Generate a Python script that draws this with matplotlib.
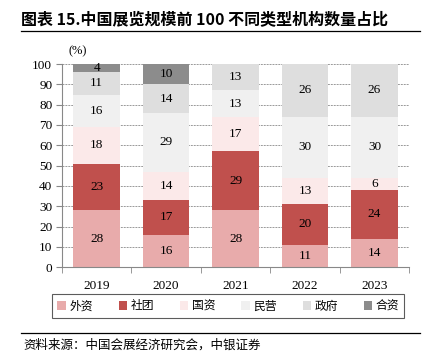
import matplotlib.pyplot as plt
import numpy as np

years = ["2019", "2020", "2021", "2022", "2023"]
types = ["外资", "社团", "国资", "民营", "政府", "合资"]
share = {
    "外资": [28, 16, 28, 11, 14],
    "社团": [23, 17, 29, 20, 24],
    "国资": [18, 14, 17, 13, 6],
    "民营": [16, 29, 13, 30, 30],
    "政府": [11, 14, 13, 26, 26],
    "合资": [4, 10, 0, 0, 0],
}
colors = ["#E8ABAB", "#C0504D", "#FBE9E9", "#F0F0F0", "#DEDEDE", "#8C8C8C"]

cjk = ["Noto Sans CJK SC", "DejaVu Sans"]
serif = ["Liberation Serif", "Noto Sans CJK SC"]

fig = plt.figure(figsize=(4.26, 3.6), dpi=100)
ax = fig.add_axes([0.1455, 0.258, 0.815, 0.564])

x = np.arange(len(years))
bottom = np.zeros(len(years))
for t, c in zip(types, colors):
    vals = np.array(share[t])
    ax.bar(x, vals, 0.67, bottom=bottom, color=c, label=t, zorder=2)
    for xi, v, b in zip(x, vals, bottom):
        if v > 0:
            ax.text(xi, b + v / 2, str(v), ha="center", va="center",
                    fontsize=9.5, family=serif, zorder=3)
    bottom += vals

ax.set_xlim(-0.5, len(years) - 0.5)
ax.set_ylim(0, 100)
ax.set_yticks(range(0, 101, 10))
ax.set_xticks(x)
ax.set_xticklabels(years)
ax.set_xticks(np.arange(-0.5, len(years)), minor=True)
ax.tick_params(axis="x", which="major", length=0, pad=9)
ax.tick_params(axis="x", which="minor", length=4, direction="out", color="#888888")
ax.tick_params(axis="y", length=4, direction="out", color="#888888", pad=3)
for lab in ax.get_xticklabels() + ax.get_yticklabels():
    lab.set_family(serif)
    lab.set_fontsize(9.5)
ax.yaxis.grid(True, linestyle=(0, (2, 1)), color="#999999", linewidth=0.7, zorder=0)
for s in ["top", "right"]:
    ax.spines[s].set_visible(False)
ax.spines["left"].set_color("#888888")
ax.spines["bottom"].set_color("#888888")

ax.text(0.02, 1.035, "(%)", transform=ax.transAxes, fontsize=9, family=serif,
        ha="left", va="bottom")

leg = fig.legend(loc="center", bbox_to_anchor=(0.536, 0.15), ncol=6,
                 prop={"family": cjk, "size": 8.5}, frameon=True, fancybox=False,
                 handlelength=0.7, handleheight=0.7, handletextpad=0.3,
                 columnspacing=2.2, borderpad=0.45)
leg.get_frame().set_edgecolor("#333333")
leg.get_frame().set_linewidth(0.8)

fig.text(0.05, 0.945, "图表 15.中国展览规模前 100 不同类型机构数量占比",
         fontsize=11.5, fontweight="bold", family=cjk, ha="left", va="center")
fig.add_artist(plt.Line2D([0.05, 0.985], [0.913, 0.913], color="black", linewidth=0.9))
fig.add_artist(plt.Line2D([0.05, 0.985], [0.075, 0.075], color="black", linewidth=0.9))
fig.text(0.055, 0.042, "资料来源：中国会展经济研究会，中银证券", fontsize=9,
         style="italic", family=cjk, ha="left", va="center")

fig.savefig("out.png", dpi=100)
